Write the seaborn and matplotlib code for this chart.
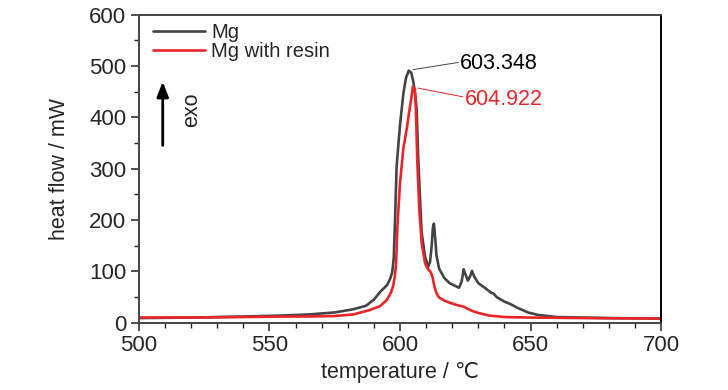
import numpy as np
import pandas as pd
import seaborn as sns
import matplotlib.pyplot as plt
from matplotlib.ticker import MultipleLocator

# DSC curves
mg_temp = [500, 520, 540, 555, 565, 575, 582, 587, 590, 592.4, 595, 596.2, 597,
           597.6, 598.1, 598.7, 600, 601.3, 602.3, 603.35, 604.3, 605.1, 605.8,
           606.4, 607, 607.7, 608.3, 609.6, 610.8, 611.5, 612.1, 612.6, 613,
           613.4, 614, 615, 617, 619, 622.6, 623.6, 624.4, 625, 626, 627, 627.6,
           628.4, 630, 633, 635, 635.8, 637, 640, 642, 645, 649, 653, 660, 680, 700]
mg_heat = [9, 10, 12, 14, 16, 20, 26, 33, 45, 60, 73, 85, 98,
           125, 200, 304, 385, 447, 477, 491, 487, 470, 445,
           415, 317, 239, 175, 129, 109, 118, 148, 185, 193,
           170, 130, 105, 87, 77, 68, 80, 104, 95, 82, 92, 101,
           90, 77, 66, 58, 57, 50, 41, 37, 29, 20, 15, 11, 9, 8]

resin_temp = [500, 520, 540, 555, 565, 575, 582, 588, 592.3, 594.9, 596.5, 597.4,
              598, 598.5, 599, 600, 601.3, 602.6, 603.5, 604.5, 604.92, 605.7,
              606.1, 606.6, 607.4, 608.3, 609.6, 610.5, 611.2, 611.8, 612.5,
              613.2, 614, 615, 617, 619, 622, 623.8, 624.6, 625.5, 627.6, 630,
              634, 640, 650, 670, 700]
resin_heat = [10, 10, 11, 12, 12, 13, 16, 24, 32, 44, 58, 72,
              90, 115, 187, 272, 340, 378, 410, 443, 460, 455,
              415, 317, 220, 155, 116, 106, 102, 98, 88,
              70, 57, 49, 43, 39, 34, 32, 31, 28, 23, 19,
              14, 11, 10, 9, 8]

series_names = ["Mg", "Mg with resin"]
series_colors = ["#444444", "#e8262a"]
peak_labels = ["603.348", "604.922"]

df = pd.concat([
    pd.DataFrame({"temperature": mg_temp, "heat": mg_heat, "sample": series_names[0]}),
    pd.DataFrame({"temperature": resin_temp, "heat": resin_heat, "sample": series_names[1]}),
])

sns.set_style("ticks")
plt.rcParams["font.family"] = ["Liberation Sans", "DejaVu Sans"]

fig = plt.figure(figsize=(7.28, 3.9), dpi=100)
ax = fig.add_axes([0.1909, 0.1726, 0.7171, 0.7897])

sns.lineplot(data=df, x="temperature", y="heat", hue="sample",
             palette=dict(zip(series_names, series_colors)),
             estimator=None, sort=False, linewidth=1.9, ax=ax)

ax.set_xlim(500, 700)
ax.set_ylim(0, 600)
ax.xaxis.set_major_locator(MultipleLocator(50))
ax.xaxis.set_minor_locator(MultipleLocator(10))
ax.yaxis.set_major_locator(MultipleLocator(100))
ax.yaxis.set_minor_locator(MultipleLocator(50))
ax.tick_params(which="major", length=6, width=1.1, pad=3, color="#222222")
ax.tick_params(which="minor", length=3.5, width=1.0, color="#222222")
ax.tick_params(axis="x", labelsize=16)
ax.tick_params(axis="y", labelsize=16)

for side in ["top", "left", "bottom"]:
    ax.spines[side].set_color("#444444")
    ax.spines[side].set_linewidth(1.4)
ax.spines["right"].set_color("black")
ax.spines["right"].set_linewidth(1.4)

ax.set_xlabel("temperature / \u2103", fontsize=15.5, labelpad=4)
ax.set_ylabel("heat flow / mW", fontsize=15.5, labelpad=14)

ax.legend(loc="upper left", bbox_to_anchor=(0.027, 0.972), frameon=False,
          fontsize=14.5, handlelength=2.6, handletextpad=0.3,
          labelspacing=0.0, borderpad=0, borderaxespad=0)

# peak labels
ax.plot([605.0, 622.3], [493, 507], color=series_colors[0], lw=0.7)
ax.text(623.0, 505, peak_labels[0], color="black", fontsize=15.5, va="center")
ax.plot([606.9, 624.1], [457, 440], color=series_colors[1], lw=0.7)
ax.text(624.9, 434, peak_labels[1], color=series_colors[1], fontsize=15.5, va="center")

# exo arrow
ax.annotate("", xy=(509.1, 475), xytext=(509.1, 340),
            arrowprops=dict(arrowstyle="-|>,head_width=0.35,head_length=0.9",
                            color="black", lw=2))
ax.text(520.2, 414, "exo", rotation=90, fontsize=15.5, ha="center", va="center")

fig.savefig("out.png", dpi=100)
